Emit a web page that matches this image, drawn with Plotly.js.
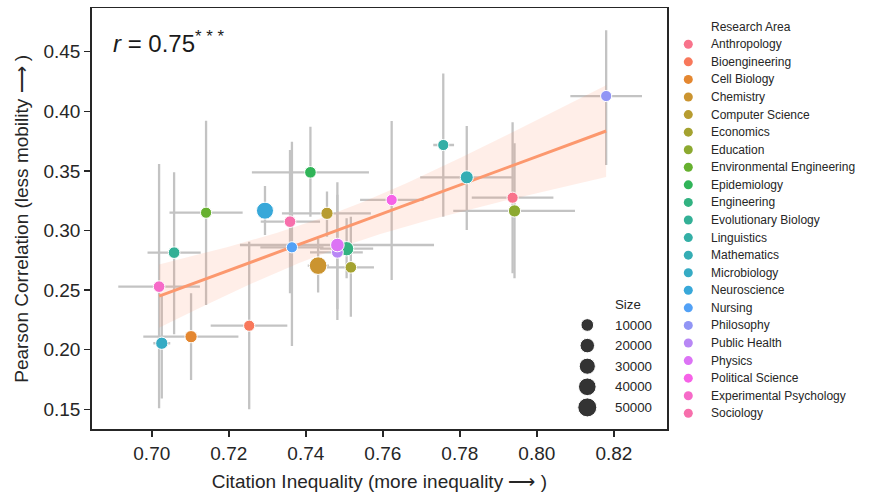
<!DOCTYPE html>
<html><head><meta charset="utf-8">
<script src="https://cdn.plot.ly/plotly-3.0.1.min.js"></script>
<style>html,body{margin:0;padding:0;background:#fff;}#chart{width:872px;height:501px;}</style>
</head><body><div id="chart"></div>
<script>
// ---------------- data ----------------
const researchAreas = ["Anthropology","Bioengineering","Cell Biology","Chemistry","Computer Science","Economics","Education","Environmental Engineering","Epidemiology","Engineering","Evolutionary Biology","Linguistics","Mathematics","Microbiology","Neuroscience","Nursing","Philosophy","Public Health","Physics","Political Science","Experimental Psychology","Sociology"];
const citationInequality = [0.7937,0.7253,0.7102,0.7432,0.7455,0.7517,0.7942,0.7141,0.7412,0.7506,0.7058,0.7757,0.7818,0.7026,0.7294,0.7364,0.8180,0.7482,0.7482,0.7623,0.7019,0.7359];
const inequalityLow  = [0.7831,0.7153,0.6978,0.7405,0.7338,0.7455,0.7783,0.7046,0.7260,0.7437,0.6989,0.7731,0.7697,0.7004,0.7280,0.7282,0.8087,0.7411,0.7229,0.7541,0.6913,0.7283];
const inequalityHigh = [0.8043,0.7352,0.7225,0.7460,0.7569,0.7577,0.8099,0.7236,0.7564,0.7575,0.7127,0.7785,0.7939,0.7048,0.7308,0.7446,0.8273,0.7548,0.7733,0.7706,0.7125,0.7437];
const pearsonCorrelation = [0.3275,0.2201,0.2109,0.2705,0.3144,0.2691,0.3164,0.3149,0.3488,0.2847,0.2814,0.3717,0.3446,0.2054,0.3166,0.2859,0.4128,0.2817,0.2878,0.3256,0.2529,0.3074];
const correlationLow  = [0.2641,0.1500,0.1746,0.2480,0.2948,0.2277,0.2599,0.2375,0.3116,0.2599,0.2130,0.3116,0.3004,0.1590,0.2962,0.2031,0.3550,0.2339,0.2249,0.2585,0.1508,0.2473];
const correlationHigh = [0.3908,0.2906,0.2473,0.2930,0.3326,0.3116,0.3732,0.3920,0.3871,0.3102,0.3488,0.4318,0.3877,0.2460,0.3373,0.3745,0.4680,0.3300,0.3404,0.3919,0.3558,0.3675];
const areaSize = [3000,3000,8000,40000,8000,5000,8000,3000,5000,19000,5000,3000,12000,8000,36000,3000,3000,6000,15000,3000,5000,5000];
const sizeLegendValues = [10000,20000,30000,40000,50000];
const sizeLegendLabels = ["10000","20000","30000","40000","50000"];
const xTickValues = [0.70,0.72,0.74,0.76,0.78,0.80,0.82];
const yTickValues = [0.15,0.20,0.25,0.30,0.35,0.40,0.45];
const correlationLabel = "<i>r</i> = 0.75<sup>* * *</sup>";

// ---------------- husl palette (seaborn default for many hues) ----------------
const M=[[3.240969941904521,-1.537383177570093,-0.498610760293],[-0.96924363628087,1.87596750150772,0.041555057407175],[0.055630079696993,-0.20397695888897,1.056971514242878]];
const refU=0.19783000664283, refV=0.46831999493879, kappa=903.2962962, eps=0.0088564516;
function getBounds(L){const res=[];const sub1=Math.pow(L+16,3)/1560896;const sub2=sub1>eps?sub1:L/kappa;
  for(let c=0;c<3;c++){const [m1,m2,m3]=M[c];for(let t=0;t<2;t++){const top1=(284517*m1-94839*m3)*sub2;
    const top2=(838422*m3+769860*m2+731718*m1)*L*sub2-769860*t*L;const bottom=(632260*m3-126452*m2)*sub2+126452*t;
    res.push([top1/bottom,top2/bottom]);}}return res;}
function maxChroma(L,H){const hr=H/180*Math.PI;let mn=Infinity;for(const [s,i] of getBounds(L)){const len=i/(Math.sin(hr)-s*Math.cos(hr));if(len>=0&&len<mn)mn=len;}return mn;}
function husl(H,S,L){const C=maxChroma(L,H)/100*S;const hr=H/180*Math.PI;const U=Math.cos(hr)*C,V=Math.sin(hr)*C;
  const vu=U/(13*L)+refU,vv=V/(13*L)+refV;const Y=L<=8?L/kappa:Math.pow((L+16)/116,3);
  const X=0-(9*Y*vu)/((vu-4)*vv-vu*vv);const Z=(9*Y-15*vv*Y-vv*X)/(3*vv);
  const rgb=M.map(r=>r[0]*X+r[1]*Y+r[2]*Z).map(c=>c<=0.0031308?12.92*c:1.055*Math.pow(c,1/2.4)-0.055);
  return '#'+rgb.map(c=>Math.round(Math.min(1,Math.max(0,c))*255).toString(16).padStart(2,'0')).join('');}
const nA=researchAreas.length;
const palette=researchAreas.map((_,i)=>husl(((i/nA+0.01)%1)*359,90,65));

// size mapping (area linear in value)
const D0=10.5, D1=19, SMAX=50000;
const diam=v=>Math.sqrt(D0*D0+(D1*D1-D0*D0)*v/SMAX);

// ---------------- regression fit + 95% CI ----------------
const n=citationInequality.length;
const mx=citationInequality.reduce((a,b)=>a+b,0)/n, my=pearsonCorrelation.reduce((a,b)=>a+b,0)/n;
let sxx=0,sxy=0,syy=0;
for(let i=0;i<n;i++){const dx=citationInequality[i]-mx,dy=pearsonCorrelation[i]-my;sxx+=dx*dx;sxy+=dx*dy;syy+=dy*dy;}
const slope=sxy/sxx, icpt=my-slope*mx;
const sRes=Math.sqrt((syy-slope*sxy)/(n-2)); const tCrit=2.086;
const xmin=Math.min(...citationInequality), xmax=Math.max(...citationInequality);
const grid=[],fit=[],up=[],lo=[];
for(let k=0;k<100;k++){const x=xmin+(xmax-xmin)*k/99;const yh=icpt+slope*x;
  const se=sRes*Math.sqrt(1/n+(x-mx)*(x-mx)/sxx);grid.push(x);fit.push(yh);up.push(yh+tCrit*se);lo.push(yh-tCrit*se);}

const FONT="Liberation Sans, Arial, sans-serif", INK="#262626";
const W=872,H=501, PL=91.7, PR=667, PT=8.3, PB=429.3;

const traces=[
 {type:'scatter',mode:'markers',x:citationInequality,y:pearsonCorrelation,marker:{opacity:0,size:4},
  error_x:{type:'data',symmetric:false,array:inequalityHigh.map((h,i)=>h-citationInequality[i]),arrayminus:inequalityLow.map((l,i)=>citationInequality[i]-l),color:'#c3c3c3',thickness:2.3,width:0},
  error_y:{type:'data',symmetric:false,array:correlationHigh.map((h,i)=>h-pearsonCorrelation[i]),arrayminus:correlationLow.map((l,i)=>pearsonCorrelation[i]-l),color:'#c3c3c3',thickness:2.3,width:0},
  hoverinfo:'skip',showlegend:false},
 {type:'scatter',mode:'lines',x:grid.concat(grid.slice().reverse()),y:up.concat(lo.slice().reverse()),fill:'toself',
  fillcolor:'rgba(252,141,98,0.15)',line:{width:0},hoverinfo:'skip',showlegend:false},
 {type:'scatter',mode:'lines',x:grid,y:fit,line:{color:'#fc986e',width:3},hoverinfo:'skip',showlegend:false},
 {type:'scatter',mode:'markers',x:citationInequality,y:pearsonCorrelation,text:researchAreas,
  marker:{color:palette,opacity:1,size:areaSize.map(diam),line:{color:'#ffffff',width:1}},showlegend:false},
 // category legend (drawn on a pixel-space overlay axis)
 {type:'scatter',mode:'markers',xaxis:'x2',yaxis:'y2',x:researchAreas.map(()=>688.3),y:researchAreas.map((_,i)=>44.3+17.57*i),
  marker:{color:palette,opacity:1,size:9},hoverinfo:'skip',showlegend:false},
 // size legend
 {type:'scatter',mode:'markers',xaxis:'x2',yaxis:'y2',x:sizeLegendValues.map(()=>587.3),y:sizeLegendValues.map((_,i)=>325+20.6*i),
  marker:{color:'#333333',opacity:1,size:sizeLegendValues.map(diam),line:{color:'#ffffff',width:1}},hoverinfo:'skip',showlegend:false}
];

const annotations=[];
annotations.push({xref:'x2',yref:'y2',x:708.5,y:44.3-17.57,text:'Research Area',showarrow:false,xanchor:'left',yanchor:'middle',font:{family:FONT,size:12,color:INK}});
researchAreas.forEach((a,i)=>annotations.push({xref:'x2',yref:'y2',x:708.5,y:44.3+17.57*i,text:a,showarrow:false,xanchor:'left',yanchor:'middle',font:{family:FONT,size:12,color:INK}}));
annotations.push({xref:'x2',yref:'y2',x:613,y:325-20.6,text:'Size',showarrow:false,xanchor:'left',yanchor:'middle',font:{family:FONT,size:13.3,color:INK}});
sizeLegendLabels.forEach((s,i)=>annotations.push({xref:'x2',yref:'y2',x:613,y:325+20.6*i,text:s,showarrow:false,xanchor:'left',yanchor:'middle',font:{family:FONT,size:13.3,color:INK}}));
annotations.push({xref:'x2',yref:'y2',x:111,y:42,text:correlationLabel,showarrow:false,xanchor:'left',yanchor:'middle',font:{family:FONT,size:24,color:'#1a1a1a'}});

const axisCommon={showline:true,mirror:true,linecolor:INK,linewidth:1.5,ticks:'outside',ticklen:6,tickwidth:1.5,tickcolor:INK,
  tickfont:{family:FONT,size:19,color:INK},showgrid:false,zeroline:false,tickformat:'.2f'};
const layout={
 width:W,height:H,margin:{l:0,r:0,t:0,b:0},paper_bgcolor:'#ffffff',plot_bgcolor:'rgba(0,0,0,0)',showlegend:false,
 xaxis:Object.assign({},axisCommon,{domain:[PL/W,PR/W],range:[0.6844,0.8338],tickmode:'array',tickvals:xTickValues,
   title:{text:'Citation Inequality (more inequality ⟶ )',font:{family:FONT,size:19,color:INK},standoff:12}}),
 yaxis:Object.assign({},axisCommon,{domain:[(H-PB)/H,(H-PT)/H],range:[0.1332,0.4864],tickmode:'array',tickvals:yTickValues,
   title:{text:'Pearson Correlation (less mobility ⟶ )',font:{family:FONT,size:19,color:INK},standoff:10}}),
 xaxis2:{domain:[0,1],range:[0,W],visible:false,fixedrange:true,anchor:'y2'},
 yaxis2:{domain:[0,1],range:[H,0],visible:false,fixedrange:true,anchor:'x2'},
 annotations:annotations
};
Plotly.newPlot('chart',traces,layout,{staticPlot:true,displayModeBar:false});
</script></body></html>
